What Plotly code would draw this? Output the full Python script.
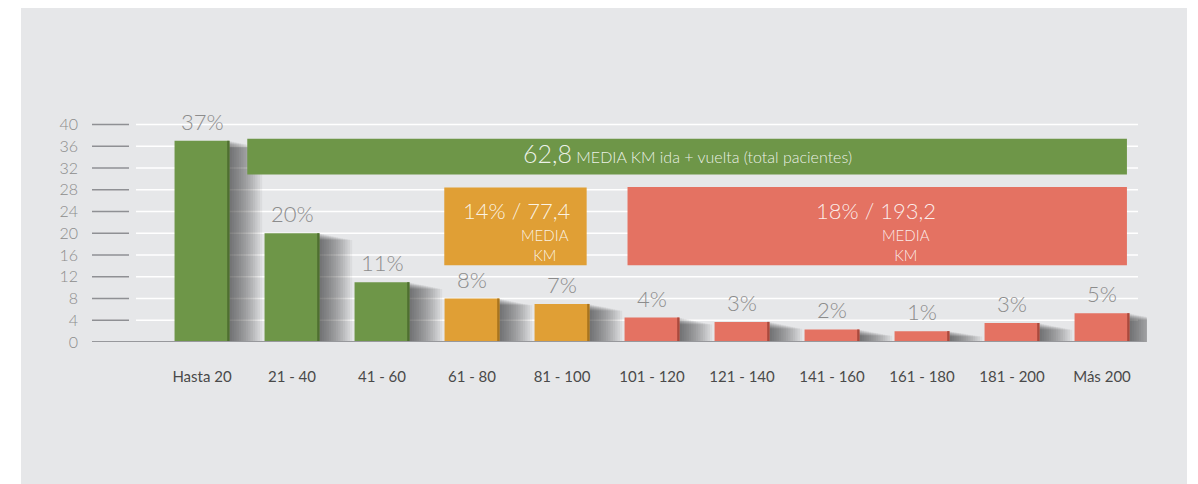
import plotly.graph_objects as go

# ---------------- data ----------------
categories = ["Hasta 20", "21 - 40", "41 - 60", "61 - 80", "81 - 100", "101 - 120",
              "121 - 140", "141 - 160", "161 - 180", "181 - 200", "Más 200"]
values = [37, 20, 11, 8, 7, 4.5, 3.7, 2.3, 2.0, 3.5, 5.3]
value_labels = ["37%", "20%", "11%", "8%", "7%", "4%", "3%", "2%", "1%", "3%", "5%"]
groups = ["g", "g", "g", "o", "o", "r", "r", "r", "r", "r", "r"]
y_ticks = list(range(0, 41, 4))

box_total_value = "62,8"
box_total_text = "MEDIA KM ida + vuelta (total pacientes)"
box_mid_text = "14% / 77,4"
box_far_text = "18% / 193,2"
box_sub_text = "MEDIA<br>KM"

# ---------------- styles ----------------
FONT = "Lato, 'Open Sans', sans-serif"
col = {"g": "#6e9648", "o": "#e09f35", "r": "#e47262"}
col_dark = {"g": "#4f6f31", "o": "#a8741f", "r": "#a94a3d"}
bar_colors = [col[g] for g in groups]
edge_colors = [col_dark[g] for g in groups]
BAR_W = 0.61
PANEL = "#e6e7e9"
TXT_IN = "rgba(255,255,255,0.88)"

# the page has an 8px body margin; the figure sits at (8, 8)
OFF = 8
W, H = 1198 - OFF, 484 - OFF
# plot area in page pixels: x 157..1147, y 81..342
L, R, T, B = 157 - OFF, 51, 81 - OFF, 142
pw = W - L - R
ph = H - T - B


def px_x(p):
    return (p - OFF - L) / pw


def px_y(p):
    return (H - B - (p - OFF)) / ph


fig = go.Figure()

# shadow layers (soft gradient to the right of each bar)
n_layers = 14
for k in range(1, n_layers + 1):
    hs = [max(v - k * min(0.036 * v, 0.09), 0) for v in values]
    fig.add_trace(go.Bar(
        x=categories, y=hs,
        width=BAR_W / 2 + k * 0.026,
        offset=0,
        marker=dict(color="rgba(25,25,25,0.05)", line=dict(width=0)),
        hoverinfo="skip", showlegend=False,
    ))

# main bars
fig.add_trace(go.Bar(
    x=categories, y=values,
    width=BAR_W,
    marker=dict(color=bar_colors, line=dict(width=0)),
    hoverinfo="x+y",
    showlegend=False,
))

# darker right edge of the bars
fig.add_trace(go.Bar(
    x=categories, y=values,
    width=0.025, offset=BAR_W / 2 - 0.025,
    marker=dict(color=edge_colors, line=dict(width=0)),
    hoverinfo="skip", showlegend=False,
))

shapes = []
# grey panel
shapes.append(dict(type="rect", xref="paper", yref="paper",
                   x0=px_x(21), x1=px_x(1187), y0=px_y(495), y1=px_y(0),
                   fillcolor=PANEL, line=dict(width=0), layer="below"))
# white grid lines and grey tick dashes
for t in y_ticks:
    if t > 0:
        shapes.append(dict(type="line", xref="paper", yref="y",
                           x0=px_x(136), x1=px_x(1138), y0=t, y1=t,
                           line=dict(color="#ffffff", width=1.6), layer="below"))
    shapes.append(dict(type="line", xref="paper", yref="y",
                       x0=px_x(92), x1=px_x(129), y0=t, y1=t,
                       line=dict(color="#8f9094", width=1.4), layer="below"))
# baseline
shapes.append(dict(type="line", xref="paper", yref="y",
                   x0=px_x(92), x1=px_x(1143), y0=0, y1=0,
                   line=dict(color="#97989c", width=1.8), layer="above"))
# coloured summary boxes
shapes.append(dict(type="rect", xref="x", yref="y", x0=0.503, x1=10.277, y0=30.8, y1=37.4,
                   fillcolor=col["g"], line=dict(width=0), layer="above"))
shapes.append(dict(type="rect", xref="x", yref="y", x0=2.692, x1=4.274, y0=14.1, y1=28.4,
                   fillcolor=col["o"], line=dict(width=0), layer="above"))
shapes.append(dict(type="rect", xref="x", yref="y", x0=4.728, x1=10.277, y0=14.1, y1=28.5,
                   fillcolor=col["r"], line=dict(width=0), layer="above"))

LIGHT = 300
annotations = [
    dict(x=5.39, y=34.7, xref="x", yref="y", showarrow=False,
         text=f"<span style='font-size:25px'>{box_total_value}</span> {box_total_text}",
         font=dict(family=FONT, size=16, color=TXT_IN, weight=LIGHT)),
    dict(x=3.5, y=24.1, xref="x", yref="y", showarrow=False, text=box_mid_text,
         font=dict(family=FONT, size=22, color=TXT_IN, weight=LIGHT)),
    dict(x=3.81, y=17.8, xref="x", yref="y", showarrow=False, text=box_sub_text,
         font=dict(family=FONT, size=15, color=TXT_IN, weight=LIGHT)),
    dict(x=7.49, y=24.1, xref="x", yref="y", showarrow=False, text=box_far_text,
         font=dict(family=FONT, size=22, color=TXT_IN, weight=LIGHT)),
    dict(x=7.82, y=17.8, xref="x", yref="y", showarrow=False, text=box_sub_text,
         font=dict(family=FONT, size=15, color=TXT_IN, weight=LIGHT)),
]
# percentage labels above the bars
for c, v, lab in zip(categories, values, value_labels):
    annotations.append(dict(x=c, y=v, xref="x", yref="y", showarrow=False,
                            text=lab, yanchor="bottom", yshift=4,
                            font=dict(family=FONT, size=22, color="#8c8c8c", weight=LIGHT)))

fig.update_layout(
    width=W, height=H,
    margin=dict(l=L, r=R, t=T, b=B, pad=0),
    paper_bgcolor="#ffffff",
    plot_bgcolor="rgba(0,0,0,0)",
    barmode="overlay",
    showlegend=False,
    shapes=shapes,
    annotations=annotations,
    xaxis=dict(type="category", range=[-0.5, 10.5], showgrid=False, zeroline=False,
               showline=False, ticks="", ticklabelstandoff=24,
               tickfont=dict(family=FONT, size=15, color="#4a4a4a")),
    yaxis=dict(range=[0, 48], tickvals=y_ticks, showgrid=False, zeroline=False,
               showline=False, ticks="", ticklabelstandoff=78,
               tickfont=dict(family=FONT, size=16, color="#8c8c8c", weight=LIGHT)),
)

fig.write_html("out.html")
